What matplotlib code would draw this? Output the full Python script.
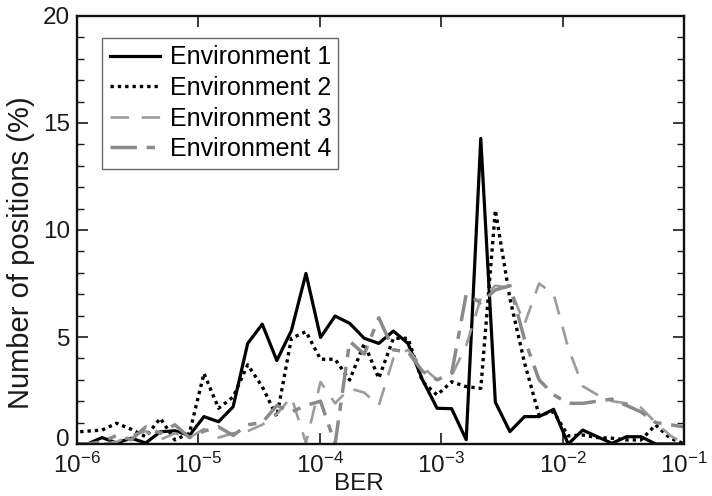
import numpy as np
import matplotlib
matplotlib.use("Agg")
import matplotlib.pyplot as plt
import matplotlib.transforms as mtransforms
from matplotlib.ticker import MultipleLocator, LogLocator, NullLocator

plt.rcParams['font.family'] = ['Liberation Sans', 'DejaVu Sans']
plt.rcParams['mathtext.fontset'] = 'custom'
plt.rcParams['mathtext.rm'] = 'Liberation Sans'
plt.rcParams['mathtext.it'] = 'Liberation Sans'
plt.rcParams['mathtext.default'] = 'regular'

# log10 of BER bin centres (43 bins, 0.12 decade apart)
log_ber = np.round(np.arange(43) * 0.12 - 6.034, 3)
ber = 10.0 ** log_ber

env1 = [0.0, 0.0, 0.3, 0.05, 0.27, 0.05, 0.57, 0.62, 0.4, 1.28,
        1.04, 1.74, 4.7, 5.6, 3.9, 5.3, 7.97, 4.98, 5.98, 5.64,
        4.94, 4.7, 5.28, 4.7, 3.0, 1.67, 1.65, 0.2, 14.28, 1.95,
        0.58, 1.28, 1.28, 1.62, 0.0, 0.65, 0.34, 0.03, 0.34, 0.34,
        0.0, 0.0, 0.0]
env2 = [0.55, 0.6, 0.65, 0.97, 0.69, 0.34, 1.2, 0.19, 0.5, 3.3,
        1.67, 2.2, 3.7, 2.68, 1.28, 4.94, 5.25, 3.96, 3.96, 2.99,
        4.7, 3.07, 4.94, 4.94, 2.91, 2.29, 2.91, 2.68, 2.6, 10.93,
        6.8, 3.8, 1.35, 1.5, 0.38, 0.42, 0.3, 0.27, 0.19, 0.19,
        0.89, 0.27, 0.0]
env3 = [0.0, 0.0, 0.0, 0.1, 0.4, 0.6, 0.2, 0.5, 0.3, 0.7,
        0.3, 0.5, 0.6, 0.9, 1.4, 2.2, 0.05, 2.9, 1.9, 2.6,
        2.4, 1.8, 4.0, 4.4, 3.6, 3.0, 3.2, 4.6, 6.8, 7.4,
        7.3, 5.6, 7.5, 7.0, 4.5, 2.7, 2.3, 2.0, 1.9, 1.7,
        1.0, 0.4, 0.0]
env4 = [0.0, 0.0, 0.1, 0.4, 0.2, 0.8, 0.5, 0.9, 0.3, 0.6,
        0.8, 0.4, 0.9, 1.0, 1.8, 1.5, 1.8, 2.0, 0.0, 4.8,
        4.2, 5.9, 4.4, 4.3, 3.4, 3.0, 3.3, 7.0, 6.6, 7.2,
        7.4, 4.9, 3.0, 2.3, 1.9, 1.9, 2.0, 2.1, 1.8, 1.5,
        1.0, 0.9, 0.8]

labels = ['Environment 1', 'Environment 2', 'Environment 3', 'Environment 4']

fig = plt.figure(figsize=(7.12, 4.96), dpi=100)
ax = fig.add_axes([77/712, 52/496, 607/712, 428/496])

ax.plot(ber, env1, color='black', lw=2.3, label=labels[0])
ax.plot(ber, env2, color='black', lw=2.4, linestyle=(0, (1.0, 1.2)), label=labels[1])
ax.plot(ber, env3, color='#9c9c9c', lw=1.9, linestyle=(0, (7.0, 4.8)), label=labels[2])
ax.plot(ber, env4, color='#8a8a8a', lw=2.5, linestyle=(0, (7.6, 2.8, 2.4, 2.8)), label=labels[3])

ax.set_xscale('log')
ax.set_xlim(1e-6, 1e-1)
ax.set_ylim(0, 20)
ax.xaxis.set_major_locator(LogLocator(base=10, numticks=10))
ax.xaxis.set_minor_locator(NullLocator())
ax.yaxis.set_major_locator(MultipleLocator(5))
ax.yaxis.set_minor_locator(MultipleLocator(1))

ax.tick_params(which='both', direction='in', top=True, right=True, labelsize=17.5, colors='#1a1a1a')
ax.tick_params(which='major', length=8, width=1.2, pad=5)
ax.tick_params(axis='x', which='major', pad=6)
ax.tick_params(which='minor', length=5, width=1.0)
for s in ax.spines.values():
    s.set_linewidth(1.7)
    s.set_color('#111111')

ax.set_xlabel('BER', fontsize=17.5, color='#1a1a1a', va='bottom')
ax.xaxis.set_label_coords(0.465, -0.119)
ax.set_ylabel('Number of positions (%)', fontsize=21, color='#1a1a1a')
ax.yaxis.set_label_coords(-0.069, 0.446)

leg = ax.legend(loc='upper left', bbox_to_anchor=(25/607, 1 - 22/428), borderaxespad=0,
                fontsize=18, frameon=True, fancybox=False, edgecolor='#444444',
                handlelength=2.0, handletextpad=0.4, labelspacing=0.26, borderpad=0.3)
leg.get_frame().set_linewidth(1.0)

fig.canvas.draw()
for tick in ax.yaxis.get_major_ticks():
    if abs(tick.get_loc()) < 1e-9:
        tick.label1.set_transform(tick.label1.get_transform() +
                                  mtransforms.ScaledTranslation(0, 6/100, fig.dpi_scale_trans))

fig.savefig('out.png', dpi=100)
